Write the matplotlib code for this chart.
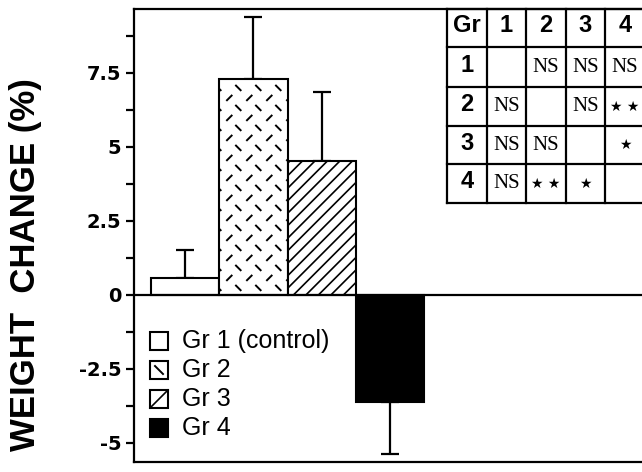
import matplotlib
matplotlib.use("Agg")
import matplotlib.pyplot as plt
from matplotlib.transforms import IdentityTransform
from matplotlib.lines import Line2D
from matplotlib.patches import Rectangle
from matplotlib.collections import LineCollection

# ---------------- data ----------------
groups = ["Gr 1 (control)", "Gr 2", "Gr 3", "Gr 4"]
means = [0.57, 7.30, 4.53, -3.61]
sem = [0.95, 2.09, 2.33, 1.76]
fills = ["white", "white", "white", "black"]

ytick_vals = [-5, -2.5, 0, 2.5, 5, 7.5]
ytick_labels = ["-5", "-2.5", "0", "2.5", "5", "7.5"]
yminor_vals = [-3.75, -1.25, 1.25, 3.75, 6.25, 8.75]

table_header = ["Gr", "1", "2", "3", "4"]
table_rows = [
    ["1", "", "NS", "NS", "NS"],
    ["2", "NS", "", "NS", "**"],
    ["3", "NS", "NS", "", "*"],
    ["4", "NS", "**", "*", ""],
]

# ---------------- figure ----------------
W, H = 642, 472
fig = plt.figure(figsize=(W / 100, H / 100), dpi=100)
ID = IdentityTransform()

ax = fig.add_axes([134 / W, 10 / H, 516 / W, 453 / H])
unit = 68.3
ax.set_xlim(-0.5 - 17 / unit, -0.5 + (650 - 151) / unit)
ax.set_ylim(-5.642, 9.662)

x = list(range(len(means)))
bars = ax.bar(x, means, width=1.0, color=fills, edgecolor="black",
              linewidth=1.5, zorder=2)
lower = [s if m < 0 else 0 for m, s in zip(means, sem)]
upper = [s if m >= 0 else 0 for m, s in zip(means, sem)]
ax.errorbar(x, means, yerr=[lower, upper], fmt="none", ecolor="black",
            elinewidth=1.6, capsize=6.5, capthick=1.6, zorder=1)
ax.axhline(0, color="black", lw=1.6, zorder=3)

for side in ["left", "top", "bottom"]:
    ax.spines[side].set_linewidth(1.6)
ax.spines["right"].set_visible(False)
ax.set_xticks([])
ax.set_yticks(ytick_vals)
ax.set_yticklabels(ytick_labels, fontfamily="DejaVu Sans", fontweight="bold",
                   fontsize=14)
ax.set_yticks(yminor_vals, minor=True)
ax.tick_params(axis="y", which="both", direction="out", length=6, width=1.6,
               pad=3)


def disp_box(i):
    (xl, yb) = ax.transData.transform((x[i] - 0.5, min(0, means[i])))
    (xr, yt) = ax.transData.transform((x[i] + 0.5, max(0, means[i])))
    return xl, xr, yb, yt


# Gr 2 pattern: staggered short dashes
xl, xr, yb, yt = disp_box(1)
top_ref = H - yt
segs = []
k = 0
while True:
    yref = top_ref + 9 + 10 * k
    if yref > H - yb + 10:
        break
    off = 19 if k % 2 == 0 else 10
    for j in range(-1, 6):
        xc = xl + off + 20 * j
        if k % 2 == 0:
            p0, p1 = (xc - 3, yref - 3), (xc + 3, yref + 3)
        else:
            p0, p1 = (xc - 3, yref + 3), (xc + 3, yref - 3)
        segs.append([(p0[0], H - p0[1]), (p1[0], H - p1[1])])
    k += 1
lc2 = LineCollection(segs, colors="black", linewidths=1.4, transform=ID,
                     zorder=2.5)
ax.add_collection(lc2, autolim=False)
lc2.set_clip_path(bars[1])

# Gr 3 pattern: diagonal lines
xl, xr, yb, yt = disp_box(2)
segs = []
c = yb - xr - 12.5
while c < yt - xl + 12.5:
    segs.append([(xl - 5, xl - 5 + c), (xr + 5, xr + 5 + c)])
    c += 12.5
lc3 = LineCollection(segs, colors="black", linewidths=1.2, transform=ID,
                     zorder=2.5)
ax.add_collection(lc3, autolim=False)
lc3.set_clip_path(bars[2])

# ---------------- legend ----------------
leg_y = [341, 370, 399, 428]
for i, (lab, yc) in enumerate(zip(groups, leg_y)):
    fig.add_artist(Rectangle((150, H - yc - 9), 18, 18, transform=ID,
                             facecolor=fills[i], edgecolor="black", lw=1.5))
    if i == 1:
        fig.add_artist(Line2D([155, 163], [H - yc + 4, H - yc - 4],
                              transform=ID, color="black", lw=1.4))
    if i == 2:
        fig.add_artist(Line2D([150, 168], [H - yc - 9, H - yc + 9],
                              transform=ID, color="black", lw=1.2))
    fig.text(182, H - yc, lab, transform=ID, ha="left", va="center",
             fontsize=18, family="Liberation Sans")

# ---------------- y label ----------------
fig.text(26, H - 265, "WEIGHT  CHANGE (%)", transform=ID, rotation=90,
         ha="center", va="center", fontsize=25, family="Liberation Sans",
         fontweight="bold")

# ---------------- comparison table ----------------
col_edges = [447, 487, 526, 566, 605, 645]
row_edges = [9, 47, 87, 126, 164, 203]
for cx in col_edges:
    fig.add_artist(Line2D([cx, cx], [H - row_edges[0], H - row_edges[-1]],
                          transform=ID, color="black", lw=1.6))
for ry in row_edges:
    fig.add_artist(Line2D([col_edges[0], col_edges[-1]], [H - ry, H - ry],
                          transform=ID, color="black", lw=1.6))

all_rows = [table_header] + table_rows
for r, row in enumerate(all_rows):
    cy = (row_edges[r] + row_edges[r + 1]) / 2
    for cidx, txt in enumerate(row):
        if not txt:
            continue
        cxm = (col_edges[cidx] + col_edges[cidx + 1]) / 2
        if r == 0 or cidx == 0:
            fig.text(cxm, H - cy + 2, txt, transform=ID, ha="center",
                     va="center", fontsize=17, family="Liberation Sans",
                     fontweight="bold")
        elif txt == "NS":
            fig.text(cxm, H - cy, txt, transform=ID, ha="center",
                     va="center", fontsize=15, family="Liberation Serif")
        else:
            stars = " ".join("\u2605" for _ in txt)
            fig.text(cxm, H - cy, stars, transform=ID, ha="center",
                     va="center", fontsize=10, family="DejaVu Sans")

fig.savefig("out.png", dpi=100)
